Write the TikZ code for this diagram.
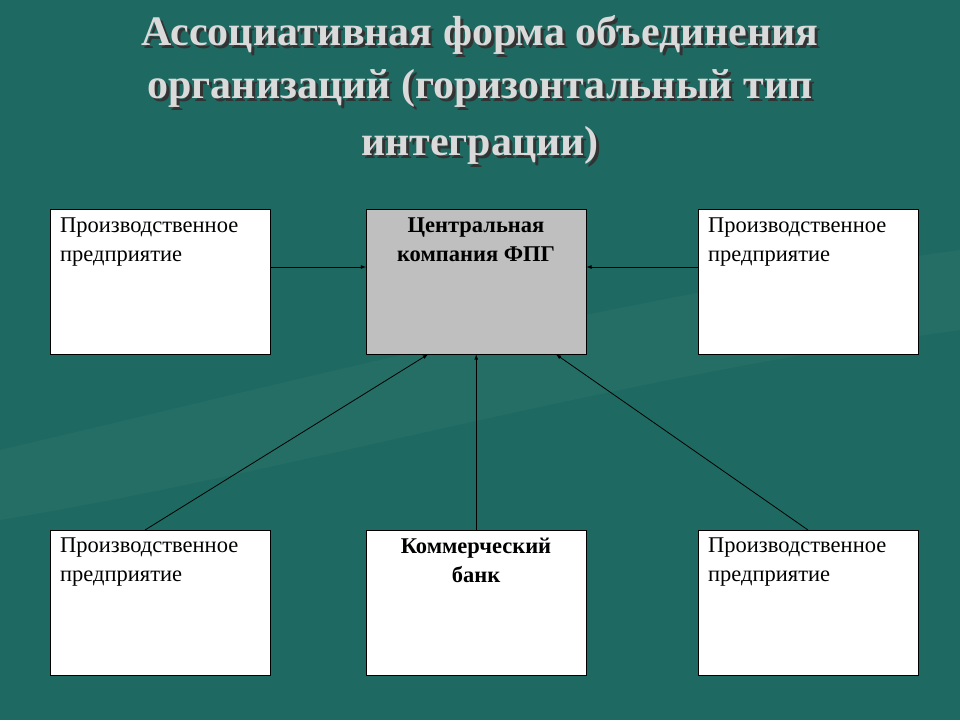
\documentclass[tikz,border=0pt]{standalone}
\usepackage{fontspec}
\setmainfont{Liberation Serif}
\definecolor{bg}{HTML}{1E6A62}
\definecolor{ttl}{HTML}{DADADA}
\tikzset{
 box/.style={draw=black, fill=white, minimum width=220pt, minimum height=145pt, anchor=north west, inner sep=0pt},
 lbl/.style={font=\fontsize{22.5}{29}\selectfont, align=left, anchor=north west, inner sep=0pt},
 blbl/.style={font=\fontsize{22.5}{29}\selectfont\bfseries, align=center, anchor=north, inner sep=0pt},
 arr/.style={-latex, black, line width=0.8pt},
 ttlsty/.style={font=\fontsize{42}{48}\selectfont\bfseries, text=ttl}
}
\begin{document}
\begin{tikzpicture}[x=1pt,y=-1pt]
\fill[bg] (0,0) rectangle (960,720);
\fill[white,opacity=0.03] (0,450) .. controls (300,380) and (600,300) .. (960,250) -- (960,330) .. controls (600,380) and (300,470) .. (0,520) -- cycle;
\foreach \t/\y in {{Ассоциативная форма объединения}/35,{организаций (горизонтальный тип}/88,{интеграции)}/145}{
 \node[ttlsty, text=black!80] at (483,\y+3) {\t};
 \node[ttlsty] at (480,\y) {\t};
}
\node[box] (a) at (50,209) {};
\node[box, fill=gray!50] (c) at (366,209) {};
\node[box] (b) at (698,209) {};
\node[box] (d) at (50,530) {};
\node[box] (k) at (366,530) {};
\node[box] (e) at (698,530) {};
\node[lbl] at (60,218) {Производственное\\предприятие};
\node[lbl] at (708,218) {Производственное\\предприятие};
\node[lbl] at (60,538) {Производственное\\предприятие};
\node[lbl] at (708,538) {Производственное\\предприятие};
\node[blbl] at (476,218) {Центральная\\компания ФПГ};
\node[blbl] at (476,538) {Коммерческий\\банк};
\draw[arr] (a.east |- 0,267) -- (c.west |- 0,267);
\draw[arr] (b.west |- 0,267) -- (c.east |- 0,267);
\draw[arr] ([xshift=95pt]d.north west) -- ([xshift=62pt]c.south west);
\draw[arr] (k.north) -- (c.south);
\draw[arr] ([xshift=110pt]e.north west) -- ([xshift=190pt]c.south west);
\end{tikzpicture}
\end{document}
